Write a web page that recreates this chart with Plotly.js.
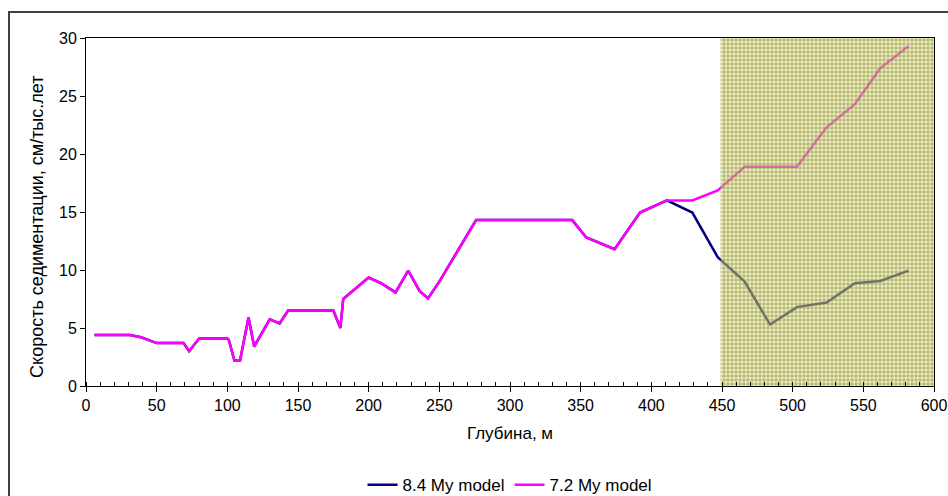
<!DOCTYPE html>
<html>
<head>
<meta charset="utf-8">
<script src="https://cdn.plot.ly/plotly-3.0.1.min.js"></script>
<style>
html,body{margin:0;padding:0;background:#fff;}
#chart{width:948px;height:496px;}
</style>
</head>
<body>
<div id="chart"></div>
<script>
// Depth (m)
const depth = [6, 31, 39, 50, 69, 73, 80, 100, 101, 105, 109, 115, 119, 130, 137, 143, 175, 180, 182, 200, 209, 219, 228, 236, 242, 250, 276, 344, 354, 374, 392, 411, 429, 447, 466, 484, 503, 524, 544, 562, 582];
// Sedimentation rate, 8.4 My model
const model84 = [4.4, 4.4, 4.2, 3.7, 3.7, 3.0, 4.1, 4.1, 4.0, 2.2, 2.2, 5.9, 3.4, 5.75, 5.4, 6.5, 6.5, 5.0, 7.5, 9.35, 8.85, 8.07, 9.95, 8.2, 7.55, 9.0, 14.3, 14.3, 12.8, 11.8, 14.95, 16.0, 14.95, 11.1, 9.0, 5.3, 6.8, 7.2, 8.85, 9.05, 9.95];
// Sedimentation rate, 7.2 My model
const model72 = [4.4, 4.4, 4.2, 3.7, 3.7, 3.0, 4.1, 4.1, 4.0, 2.2, 2.2, 5.9, 3.4, 5.75, 5.4, 6.5, 6.5, 5.0, 7.5, 9.35, 8.85, 8.07, 9.95, 8.2, 7.55, 9.0, 14.3, 14.3, 12.8, 11.8, 14.95, 16.0, 16.0, 16.85, 18.9, 18.9, 18.9, 22.3, 24.3, 27.4, 29.3];
const seriesNames = ["8.4 My model", "7.2 My model"];
const xTitle = 'Глубина, м';
const yTitle = 'Скорость седиментации, см/тыс.лет';
// Highlighted depth interval
const zoneX = [449, 600];
const zoneY = [0, 30];

const fontFam = '"Liberation Sans", Arial, sans-serif';

const traces = [
  {x: depth, y: model84, name: seriesNames[0], mode: 'lines', type: 'scatter',
   line: {color: '#000080', width: 2.5}},
  {x: depth, y: model72, name: seriesNames[1], mode: 'lines', type: 'scatter',
   line: {color: '#ff00ff', width: 2.5}},
  {x: [zoneX[0], zoneX[1], zoneX[1], zoneX[0], zoneX[0]],
   y: [zoneY[0], zoneY[0], zoneY[1], zoneY[1], zoneY[0]],
   mode: 'none', type: 'scatter', fill: 'toself', showlegend: false, hoverinfo: 'skip',
   fillcolor: 'rgba(200,200,110,0.5)',
   fillpattern: {shape: '+', size: 4, solidity: 0.3, fgcolor: 'rgba(125,125,30,0.85)', bgcolor: 'rgba(215,217,130,0.5)'}}
];

const layout = {
  width: 948, height: 496,
  margin: {l: 86, r: 14, t: 38, b: 110, autoexpand: false},
  paper_bgcolor: '#ffffff', plot_bgcolor: '#ffffff',
  font: {family: fontFam, size: 16, color: '#000'},
  showlegend: true,
  legend: {orientation: 'h', x: 0.5, xanchor: 'center', y: -0.285, yanchor: 'middle',
           font: {family: fontFam, size: 17, color: '#000'}, itemwidth: 30, traceorder: 'normal'},
  xaxis: {
    range: [0, 600], dtick: 50, tick0: 0,
    showgrid: false, zeroline: false,
    showline: true, linecolor: '#000', linewidth: 1, mirror: true,
    ticks: 'outside', ticklen: 5, tickcolor: '#000',
    minor: {dtick: 10, ticks: 'inside', ticklen: 4, tickcolor: '#000', showgrid: false},
    tickfont: {family: fontFam, size: 16},
    title: {text: xTitle, font: {family: fontFam, size: 17}, standoff: 13}
  },
  yaxis: {
    range: [0, 30], dtick: 5, tick0: 0,
    showgrid: false, zeroline: false,
    showline: true, linecolor: '#000', linewidth: 1, mirror: true,
    ticks: 'outside', ticklen: 5, tickcolor: '#000',
    tickfont: {family: fontFam, size: 16}
  },
  annotations: [
    {text: yTitle, xref: 'paper', yref: 'paper', x: -0.0578, y: 0.457,
     xanchor: 'center', yanchor: 'middle', textangle: -90, showarrow: false,
     font: {family: fontFam, size: 18, color: '#000'}}
  ],
  shapes: [
    {type: 'rect', xref: 'paper', yref: 'paper', x0: -0.0908, x1: 1.05, y0: -0.4, y1: 1.0747,
     line: {color: '#404040', width: 2}, fillcolor: 'rgba(0,0,0,0)', layer: 'above'}
  ]
};

Plotly.newPlot('chart', traces, layout, {displayModeBar: false, staticPlot: true});
</script>
</body>
</html>
